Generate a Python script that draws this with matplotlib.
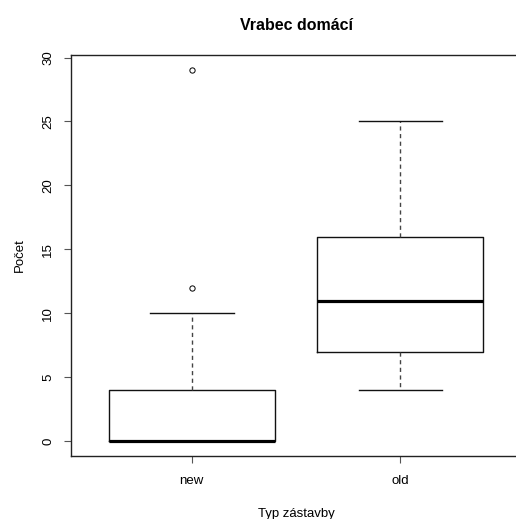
import matplotlib
matplotlib.use("Agg")
import matplotlib.pyplot as plt

plt.rcParams['font.family'] = ['Liberation Sans', 'DejaVu Sans']

categories = ["new", "old"]
q1 = [0, 7]
medians = [0, 11]
q3 = [4, 16]
whislo = [0, 4]
whishi = [10, 25]
fliers = [[12, 29], []]
yticks = [0, 5, 10, 15, 20, 25, 30]

stats = []
for i, c in enumerate(categories):
    stats.append(dict(label=c, q1=q1[i], med=medians[i], q3=q3[i],
                      whislo=whislo[i], whishi=whishi[i], fliers=fliers[i]))

fig = plt.figure(figsize=(5.16, 5.19), dpi=100)
ax = fig.add_axes([71/516, 1-456/519, (521-71)/516, (456-55)/519])

ax.bxp(stats, positions=[1, 2], widths=0.8, showfliers=True,
       boxprops=dict(color='#111111', linewidth=1),
       medianprops=dict(color='black', linewidth=2.3, solid_capstyle='butt'),
       whiskerprops=dict(color='#444444', linewidth=1, linestyle=(0, (3, 2.5))),
       capprops=dict(color='#111111', linewidth=1),
       capwidths=0.4,
       flierprops=dict(marker='o', markerfacecolor='none', markeredgecolor='black',
                       markersize=3.8, markeredgewidth=0.7))

ax.set_xlim(0.42, 2.58)
ax.set_ylim(-1.16, 30.2)
ax.set_yticks(yticks)
ax.set_yticklabels([str(v) for v in yticks], rotation=90, va='center')
ax.set_xticks([1, 2])
ax.set_xticklabels(categories)
ax.tick_params(axis='both', labelsize=9.5, length=5, width=0.8, color='#555555', pad=7)
ax.tick_params(axis='x', pad=9)
for s in ax.spines.values():
    s.set_linewidth(1)
    s.set_color('#222222')

ax.set_title("Vrabec domácí", fontsize=11.5, fontweight='bold', pad=18)
ax.set_xlabel("Typ zástavby", fontsize=9.5, labelpad=15)
ax.set_ylabel("Počet", fontsize=9.5, labelpad=12)

fig.savefig("out.png", dpi=100)
